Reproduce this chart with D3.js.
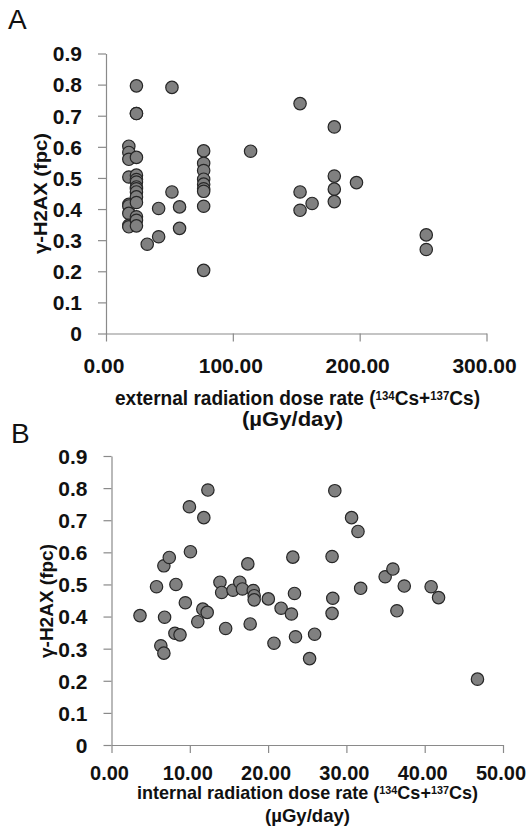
<!DOCTYPE html>
<html><head><meta charset="utf-8">
<script src="https://cdn.jsdelivr.net/npm/d3@7/dist/d3.min.js"></script>
<style>body{margin:0;background:#fff}svg{display:block}</style>
</head><body>
<svg id="chart" width="530" height="829"></svg>
<script>
// ---- data ----
const yTickValues = [0, 0.1, 0.2, 0.3, 0.4, 0.5, 0.6, 0.7, 0.8, 0.9];
const yTickLabels = ["0", "0.1", "0.2", "0.3", "0.4", "0.5", "0.6", "0.7", "0.8", "0.9"];
const extTickValues = [0, 100, 200, 300];
const extTickLabels = ["0.00", "100.00", "200.00", "300.00"];
const intTickValues = [0, 10, 20, 30, 40, 50];
const intTickLabels = ["0.00", "10.00", "20.00", "30.00", "40.00", "50.00"];

// Panel A: external dose rate (µGy/day) vs γ-H2AX (fpc)
const extDose = [
  18, 18, 18, 18, 18, 18, 18, 18, 18,
  24, 24, 24, 24, 24, 24, 24, 24, 24, 24, 24, 24, 24, 24, 24,
  32.5, 41.5, 41.5, 52, 52, 58, 58,
  77, 77, 77, 77, 77, 77, 77, 77, 77,
  114, 153, 153, 153, 162.5, 180, 180, 180, 180, 197.5, 252.5, 252.5
];
const extH2AX = [
  0.602, 0.582, 0.560, 0.503, 0.415, 0.410, 0.386, 0.348, 0.343,
  0.796, 0.707, 0.707, 0.566, 0.509, 0.495, 0.487, 0.471, 0.465, 0.455, 0.439, 0.421, 0.375, 0.364, 0.346,
  0.287, 0.311, 0.402, 0.791, 0.455, 0.407, 0.338,
  0.587, 0.547, 0.524, 0.496, 0.480, 0.465, 0.457, 0.409, 0.203,
  0.586, 0.739, 0.455, 0.396, 0.418, 0.664, 0.506, 0.464, 0.424, 0.485, 0.317, 0.270
];

// Panel B: internal dose rate (µGy/day) vs γ-H2AX (fpc)
const intDose = [
  3.64, 5.75, 6.69, 7.38, 6.78, 6.30, 6.69, 8.23, 8.10, 8.75,
  9.43, 9.95, 10.08, 11.02, 11.79, 12.31, 11.66, 12.22, 13.85, 14.07,
  14.58, 15.52, 16.38, 16.72, 17.41, 17.71, 18.10, 18.22, 18.22, 20.03,
  20.75, 21.66, 22.98, 23.16, 23.37, 23.50, 25.30, 25.94, 28.17, 28.26,
  28.17, 28.52, 30.66, 31.48, 31.82, 34.95, 35.94, 36.45, 37.39, 40.82,
  41.77, 46.74
];
const intH2AX = [
  0.403, 0.493, 0.558, 0.584, 0.398, 0.309, 0.286, 0.500, 0.348, 0.343,
  0.443, 0.742, 0.602, 0.384, 0.708, 0.794, 0.423, 0.413, 0.507, 0.475,
  0.363, 0.482, 0.507, 0.486, 0.564, 0.377, 0.481, 0.465, 0.452, 0.455,
  0.317, 0.426, 0.408, 0.585, 0.472, 0.337, 0.269, 0.345, 0.587, 0.457,
  0.410, 0.792, 0.708, 0.665, 0.488, 0.524, 0.548, 0.418, 0.495, 0.493,
  0.459, 0.205
];

// ---- drawing ----
const svg = d3.select("#chart");
const FONT = "'Liberation Sans', Arial, sans-serif";

function panel(cfg) {
  const g = svg.append("g");
  const x = d3.scaleLinear().domain(cfg.xDomain).range([cfg.x0, cfg.x1]);
  const y = d3.scaleLinear().domain([0, 0.9]).range([cfg.y0, cfg.y1]);

  const ya = g.append("g").attr("transform", `translate(${cfg.x0},0)`)
    .call(d3.axisLeft(y).tickValues(yTickValues).tickFormat((d, i) => yTickLabels[i])
      .tickSize(8).tickSizeOuter(0).tickPadding(16));
  const xa = g.append("g").attr("transform", `translate(0,${cfg.y0})`)
    .call(d3.axisBottom(x).tickValues(cfg.xTicks).tickFormat((d, i) => cfg.xLabels[i])
      .tickSize(8).tickSizeOuter(0));

  [ya, xa].forEach(a => {
    a.select(".domain").attr("stroke", "#8a8a8a").attr("stroke-width", 1.2);
    a.selectAll(".tick line").attr("stroke", "#8a8a8a").attr("stroke-width", 1.2);
    a.selectAll("text").attr("font-family", FONT).attr("font-weight", "bold")
      .attr("fill", "#111");
  });
  ya.selectAll("text").attr("font-size", 21).attr("dy", "0.35em");
  xa.selectAll("text").attr("font-size", cfg.xTickFs).attr("y", cfg.xLabelBase)
    .attr("dy", 0).attr("dx", -2.5);

  g.append("g").selectAll("circle").data(cfg.xs.map((v, i) => [v, cfg.ys[i]]))
    .join("circle")
    .attr("cx", d => x(d[0])).attr("cy", d => y(d[1])).attr("r", 6.2)
    .attr("fill", "#808080").attr("stroke", "#262626").attr("stroke-width", 1.2);

  g.append("text")
    .attr("transform", `translate(${cfg.ytX},${cfg.ytY}) rotate(-90)`)
    .attr("text-anchor", "middle").attr("dominant-baseline", "central")
    .attr("font-family", FONT).attr("font-weight", "bold").attr("font-size", 19)
    .attr("fill", "#111")
    .attr("textLength", cfg.ytLen).attr("lengthAdjust", "spacingAndGlyphs")
    .text("γ-H2AX (fpc)");

  const t1 = g.append("text")
    .attr("x", cfg.xt1X).attr("y", cfg.xt1Y).attr("text-anchor", "middle")
    .attr("font-family", FONT).attr("font-weight", "bold").attr("font-size", cfg.xtFs)
    .attr("fill", "#111")
    .attr("textLength", cfg.xt1Len).attr("lengthAdjust", "spacingAndGlyphs");
  t1.append("tspan").text(cfg.xtPrefix + "(");
  t1.append("tspan").attr("dy", -5).attr("font-size", cfg.xtFs * 0.6).text("134");
  t1.append("tspan").attr("dy", 5).text("Cs+");
  t1.append("tspan").attr("dy", -5).attr("font-size", cfg.xtFs * 0.6).text("137");
  t1.append("tspan").attr("dy", 5).text("Cs)");

  g.append("text")
    .attr("x", cfg.xt2X).attr("y", cfg.xt2Y).attr("text-anchor", "middle")
    .attr("font-family", FONT).attr("font-weight", "bold").attr("font-size", cfg.xtFs)
    .attr("fill", "#111")
    .attr("textLength", cfg.xt2Len).attr("lengthAdjust", "spacingAndGlyphs")
    .text("(µGy/day)");

  g.append("text").attr("x", cfg.letterX).attr("y", cfg.letterY)
    .attr("font-family", FONT).attr("font-size", 28).attr("fill", "#111")
    .text(cfg.letter);
}

panel({
  xDomain: [0, 300], x0: 106, x1: 486.5, y0: 333.5, y1: 53.5,
  xTicks: extTickValues, xLabels: extTickLabels, xTickFs: 21, xLabelBase: 39.5,
  xs: extDose, ys: extH2AX,
  ytX: 40, ytY: 193.5, ytLen: 121,
  xtPrefix: "external radiation dose rate  ", xtFs: 20,
  xt1X: 297.5, xt1Y: 405, xt1Len: 365,
  xt2X: 292.5, xt2Y: 426, xt2Len: 101,
  letter: "A", letterX: 8, letterY: 29
});

panel({
  xDomain: [0, 50], x0: 111.5, x1: 503, y0: 745, y1: 456,
  xTicks: intTickValues, xLabels: intTickLabels, xTickFs: 20, xLabelBase: 35,
  xs: intDose, ys: intH2AX,
  ytX: 46, ytY: 601, ytLen: 114,
  xtPrefix: "internal radiation dose rate ", xtFs: 19,
  xt1X: 307.5, xt1Y: 799, xt1Len: 341,
  xt2X: 307.5, xt2Y: 822, xt2Len: 85,
  letter: "B", letterX: 11, letterY: 443
});
</script>
</body></html>
